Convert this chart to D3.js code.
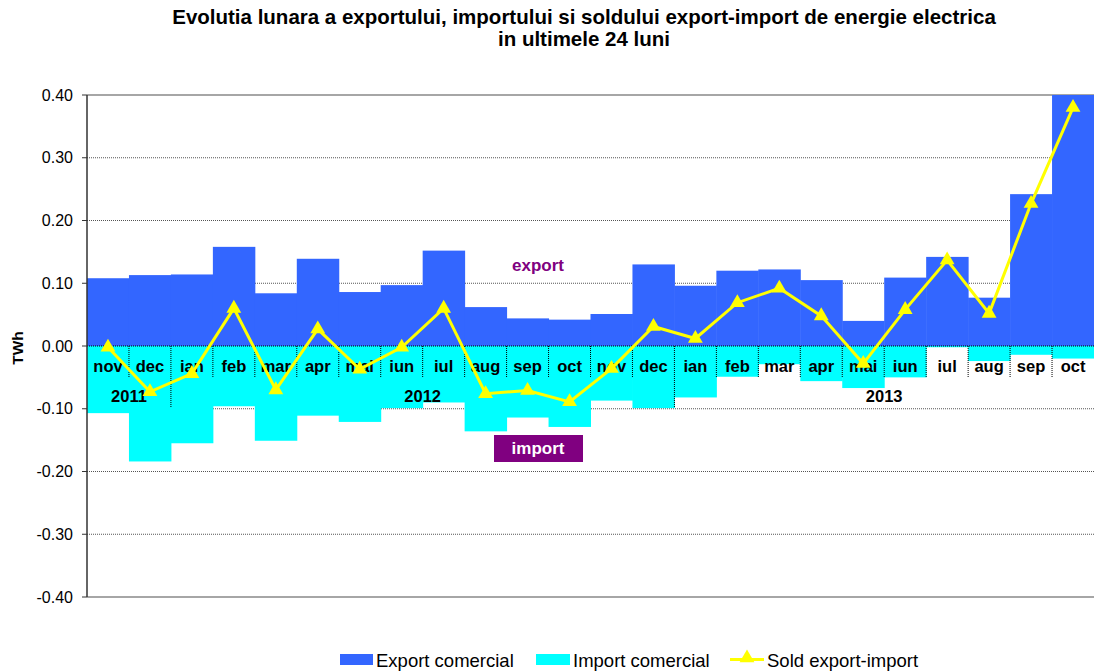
<!DOCTYPE html>
<meta charset="utf-8">
<script src="https://d3js.org/d3.v7.min.js"></script>
<style>
  body { margin: 0; background: #fff; }
  text { font-family: Arial, "Liberation Sans", sans-serif; }
</style>
<div id="chart"></div>
<script>
  // months shown on the category axis (nov 2011 .. oct 2013)
  var months = ["nov","dec","ian","feb","mar","apr","mai","iun","iul","aug","sep","oct",
                "nov","dec","ian","feb","mar","apr","mai","iun","iul","aug","sep","oct"];
  // year groups: label, first index, last index
  var years = [["2011", 0, 1], ["2012", 2, 13], ["2013", 14, 23]];

  // TWh
  var exportVals = [0.108, 0.113, 0.114, 0.158, 0.084, 0.139, 0.086, 0.097, 0.152, 0.062, 0.044, 0.042,
                    0.051, 0.130, 0.096, 0.120, 0.122, 0.105, 0.040, 0.109, 0.142, 0.077, 0.242, 0.400];
  var importVals = [-0.107, -0.184, -0.155, -0.096, -0.151, -0.111, -0.121, -0.099, -0.090, -0.136, -0.114, -0.129,
                    -0.087, -0.099, -0.082, -0.049, -0.029, -0.056, -0.067, -0.050, -0.002, -0.024, -0.014, -0.020];
  var soldVals = [-0.002, -0.073, -0.044, 0.060, -0.070, 0.027, -0.037, -0.002, 0.060, -0.076, -0.071, -0.089,
                  -0.036, 0.031, 0.012, 0.069, 0.092, 0.048, -0.028, 0.058, 0.137, 0.052, 0.227, 0.380];
  var yTicks = [0.4, 0.3, 0.2, 0.1, 0, -0.1, -0.2, -0.3, -0.4];

  var W = 1094, H = 672;
  var margin = {left: 87, right: 1094, top: 95, bottom: 597};

  var svg = d3.select("#chart").append("svg")
    .attr("width", W).attr("height", H);

  var idx = d3.range(months.length);
  var x = d3.scaleBand().domain(idx).range([margin.left, margin.right]).padding(0);
  var y = d3.scaleLinear().domain([-0.4, 0.4]).range([margin.bottom, margin.top]);

  // title
  svg.append("text").attr("x", 584).attr("y", 24).attr("text-anchor", "middle")
    .style("font-size", "20.5px").style("font-weight", "bold")
    .text("Evolutia lunara a exportului, importului si soldului export-import de energie electrica");
  svg.append("text").attr("x", 584).attr("y", 46).attr("text-anchor", "middle")
    .style("font-size", "20.5px").style("font-weight", "bold")
    .text("in ultimele 24 luni");

  // gridlines
  svg.append("g").selectAll("line").data(yTicks.filter(function(d) { return d !== 0 && Math.abs(d) < 0.4; }))
    .enter().append("line")
      .attr("x1", margin.left).attr("x2", margin.right)
      .attr("y1", function(d) { return y(d); }).attr("y2", function(d) { return y(d); })
      .attr("stroke", "#555").attr("stroke-width", 1).attr("stroke-dasharray", "1,1");
  svg.append("line").attr("x1", margin.left).attr("x2", margin.right).attr("y1", y(0.4)).attr("y2", y(0.4))
    .attr("stroke", "#888").attr("stroke-width", 1.5);
  svg.append("line").attr("x1", margin.left).attr("x2", margin.right).attr("y1", y(-0.4)).attr("y2", y(-0.4))
    .attr("stroke", "#888").attr("stroke-width", 1.5);

  // bars
  svg.append("g").selectAll("rect").data(idx).enter().append("rect")
    .attr("x", function(i) { return x(i); })
    .attr("width", x.bandwidth() + 0.5)
    .attr("y", function(i) { return y(exportVals[i]); })
    .attr("height", function(i) { return y(0) - y(exportVals[i]); })
    .attr("fill", "#3366ff");
  svg.append("g").selectAll("rect").data(idx).enter().append("rect")
    .attr("x", function(i) { return x(i); })
    .attr("width", x.bandwidth() + 0.5)
    .attr("y", y(0))
    .attr("height", function(i) { return y(importVals[i]) - y(0); })
    .attr("fill", "#00ffff");

  // zero line
  svg.append("line").attr("x1", margin.left).attr("x2", margin.right).attr("y1", y(0)).attr("y2", y(0))
    .attr("stroke", "#000").attr("stroke-width", 1).attr("stroke-dasharray", "1,1");

  // category separators
  var yearEnds = years.map(function(d) { return d[2]; });
  svg.append("g").selectAll("line").data(idx.slice(1)).enter().append("line")
    .attr("x1", function(i) { return x(i); }).attr("x2", function(i) { return x(i); })
    .attr("y1", y(0))
    .attr("y2", function(i) { return yearEnds.indexOf(i - 1) >= 0 ? y(0) + 61 : y(0) + 32; })
    .attr("stroke", "#000").attr("stroke-width", 1).attr("stroke-dasharray", "1,1");

  // month labels
  svg.append("g").selectAll("text").data(idx).enter().append("text")
    .attr("x", function(i) { return x(i) + x.bandwidth() / 2; })
    .attr("y", y(0) + 26)
    .attr("text-anchor", "middle")
    .style("font-size", "16.5px").style("font-weight", "bold")
    .text(function(i) { return months[i]; });

  // year labels
  svg.append("g").selectAll("text").data(years).enter().append("text")
    .attr("x", function(d) { return (x(d[1]) + x(d[2]) + x.bandwidth()) / 2; })
    .attr("y", y(0) + 56)
    .attr("text-anchor", "middle")
    .style("font-size", "16.5px").style("font-weight", "bold")
    .text(function(d) { return d[0]; });

  // y axis
  svg.append("line").attr("x1", margin.left).attr("x2", margin.left).attr("y1", margin.top).attr("y2", margin.bottom)
    .attr("stroke", "#333").attr("stroke-width", 1.5);
  var yAxis = svg.append("g").selectAll("g").data(yTicks).enter().append("g");
  yAxis.append("line").attr("x1", margin.left - 5).attr("x2", margin.left)
    .attr("y1", function(d) { return y(d); }).attr("y2", function(d) { return y(d); })
    .attr("stroke", "#333");
  yAxis.append("text").attr("x", margin.left - 14).attr("y", function(d) { return y(d) + 5.5; })
    .attr("text-anchor", "end").style("font-size", "16px")
    .text(function(d) { return d3.format(".2f")(d).replace("\u2212", "-"); });
  svg.append("text").attr("transform", "translate(23," + (y(0) + 2) + ") rotate(-90)")
    .attr("text-anchor", "middle").style("font-size", "15.5px").style("font-weight", "bold")
    .text("TWh");

  // sold line
  var line = d3.line().x(function(i) { return x(i) + x.bandwidth() / 2; })
    .y(function(i) { return y(soldVals[i]); });
  svg.append("path").datum(idx).attr("d", line)
    .attr("fill", "none").attr("stroke", "#ffff00").attr("stroke-width", 3);
  var tri = d3.symbol().type(d3.symbolTriangle).size(95);
  svg.append("g").selectAll("path").data(idx).enter().append("path")
    .attr("transform", function(i) { return "translate(" + (x(i) + x.bandwidth() / 2) + "," + y(soldVals[i]) + ")"; })
    .attr("d", tri).attr("fill", "#ffff00");

  // annotations
  svg.append("text").attr("x", 538).attr("y", 271).attr("text-anchor", "middle")
    .style("font-size", "17px").style("font-weight", "bold").attr("fill", "#800080")
    .text("export");
  svg.append("rect").attr("x", 494).attr("y", 435).attr("width", 89).attr("height", 27).attr("fill", "#800080");
  svg.append("text").attr("x", 538).attr("y", 454).attr("text-anchor", "middle")
    .style("font-size", "17px").style("font-weight", "bold").attr("fill", "#fff")
    .text("import");

  // legend
  var lg = svg.append("g");
  lg.append("rect").attr("x", 340).attr("y", 654).attr("width", 33).attr("height", 11).attr("fill", "#3366ff");
  lg.append("text").attr("x", 376).attr("y", 667).style("font-size", "18.5px").text("Export comercial");
  lg.append("rect").attr("x", 536).attr("y", 654).attr("width", 34).attr("height", 11).attr("fill", "#00ffff");
  lg.append("text").attr("x", 573).attr("y", 667).style("font-size", "18.5px").text("Import comercial");
  lg.append("line").attr("x1", 730).attr("x2", 764).attr("y1", 659.5).attr("y2", 659.5)
    .attr("stroke", "#ffff00").attr("stroke-width", 3);
  lg.append("path").attr("transform", "translate(747,658)").attr("d", tri).attr("fill", "#ffff00");
  lg.append("text").attr("x", 767).attr("y", 667).style("font-size", "18.5px").text("Sold export-import");
</script>
